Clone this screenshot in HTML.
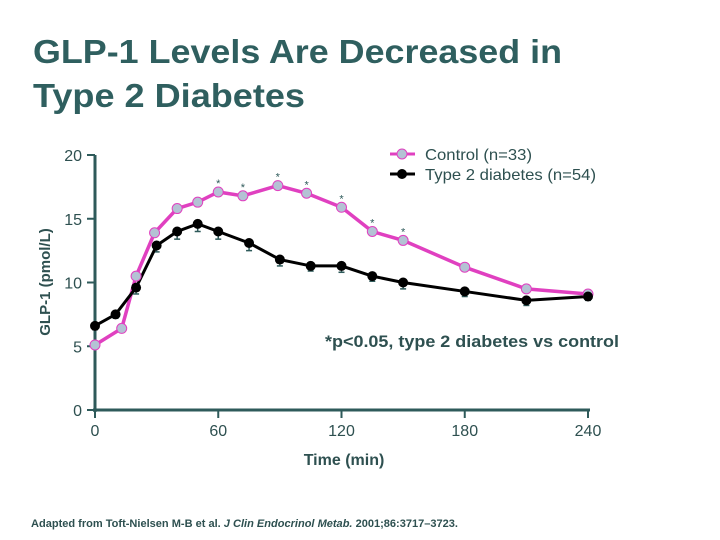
<!DOCTYPE html>
<html><head><meta charset="utf-8"><style>
body{margin:0;width:720px;height:540px;background:#fff;overflow:hidden;font-family:"Liberation Sans",sans-serif}
svg{position:absolute;left:0;top:0}
</style></head><body>
<svg width="720" height="540">
<text x="33" y="63" font-size="33" font-weight="bold" fill="#2f5f5f" textLength="529" lengthAdjust="spacingAndGlyphs">GLP-1 Levels Are Decreased in</text>
<text x="33" y="107" font-size="33" font-weight="bold" fill="#2f5f5f" textLength="272" lengthAdjust="spacingAndGlyphs">Type 2 Diabetes</text>
<g id="axes"></g>
<g id="marks"></g>
<text x="344" y="465" font-size="16" font-weight="bold" fill="#2e5050" text-anchor="middle">Time (min)</text>
<text transform="translate(50,282) rotate(-90)" font-size="15" font-weight="bold" fill="#2e5050" text-anchor="middle">GLP-1 (pmol/L)</text>
<text x="325" y="347" font-size="17" font-weight="bold" fill="#2e5050" textLength="294" lengthAdjust="spacingAndGlyphs">*p&lt;0.05, type 2 diabetes vs control</text>
<g>
<line x1="390" y1="154" x2="415" y2="154" stroke="#e040c0" stroke-width="3"/>
<circle cx="402" cy="154" r="5" fill="#b4c2d4" stroke="#e040c0" stroke-width="1"/>
<text x="425" y="160" font-size="16" fill="#2e5050" textLength="107" lengthAdjust="spacingAndGlyphs">Control (n=33)</text>
<line x1="390" y1="174" x2="415" y2="174" stroke="#000" stroke-width="3"/>
<circle cx="402" cy="174" r="5" fill="#000"/>
<text x="425" y="180" font-size="16" fill="#2e5050" textLength="171" lengthAdjust="spacingAndGlyphs">Type 2 diabetes (n=54)</text>
</g>
<text x="31" y="527" font-size="11" font-weight="bold" fill="#2e5050" textLength="427" lengthAdjust="spacingAndGlyphs">Adapted from Toft-Nielsen M-B et al. <tspan font-style="italic">J Clin Endocrinol Metab.</tspan> 2001;86:3717–3723.</text>
</svg>
<script>
const ctrlTimes=[0,13,20,29,40,50,60,72,89,103,120,135,150,180,210,240];
const ctrlVals=[5.1,6.4,10.5,13.9,15.8,16.3,17.1,16.8,17.6,17.0,15.9,14.0,13.3,11.2,9.5,9.1];
const t2dTimes=[0,10,20,30,40,50,60,75,90,105,120,135,150,180,210,240];
const t2dVals=[6.6,7.5,9.6,12.9,14.0,14.6,14.0,13.1,11.8,11.3,11.3,10.5,10.0,9.3,8.6,8.9];
const t2dErr=[0.3,0.3,0.5,0.5,0.6,0.6,0.6,0.6,0.5,0.4,0.5,0.4,0.5,0.4,0.4,0.3];
const sigTimes=[60,72,89,103,120,135,150];
const xTicks=[0,60,120,180,240];
const yTicks=[0,5,10,15,20];
const X=t=>95+t*(588-95)/240, Y=v=>410-v*(410-155)/20;
const NS="http://www.w3.org/2000/svg";
function mk(p,tag,a){const e=document.createElementNS(NS,tag);for(const k in a)e.setAttribute(k,a[k]);p.appendChild(e);return e;}
const ax=document.getElementById('axes'),mg=document.getElementById('marks');
const C="#2e5a5a";
let e=mk(ax,'line',{x1:95,y1:155,x2:95,y2:412,stroke:C,'stroke-width':3});

e=mk(ax,'line',{x1:93,y1:410,x2:590,y2:410,stroke:C,'stroke-width':3});

yTicks.forEach(v=>{mk(ax,'line',{x1:87,y1:Y(v),x2:95,y2:Y(v),stroke:C,'stroke-width':2});
 const t=mk(ax,'text',{x:82,y:Y(v)+6,'font-size':16,fill:'#2e5050','text-anchor':'end'});t.textContent=v;
 });
xTicks.forEach(v=>{mk(ax,'line',{x1:X(v),y1:410,x2:X(v),y2:418,stroke:C,'stroke-width':2});
 const t=mk(ax,'text',{x:X(v),y:436,'font-size':16,fill:'#2e5050','text-anchor':'middle'});t.textContent=v;
 });
t2dTimes.forEach((t,i)=>{const x=X(t),y1=Y(t2dVals[i]),y2=Y(t2dVals[i]-t2dErr[i]);
 mk(mg,'line',{x1:x,y1:y1,x2:x,y2:y2,stroke:C,'stroke-width':1.5});
 mk(mg,'line',{x1:x-3,y1:y2,x2:x+3,y2:y2,stroke:C,'stroke-width':1.5});});
e=mk(mg,'polyline',{points:ctrlTimes.map((t,i)=>X(t)+','+Y(ctrlVals[i])).join(' '),fill:'none',stroke:'#e040c0','stroke-width':3.5});

e=mk(mg,'polyline',{points:t2dTimes.map((t,i)=>X(t)+','+Y(t2dVals[i])).join(' '),fill:'none',stroke:'#000','stroke-width':3});

ctrlTimes.forEach((t,i)=>{const c=mk(mg,'circle',{cx:X(t),cy:Y(ctrlVals[i]),r:5,fill:'#b4c2d4',stroke:'#e040c0','stroke-width':1});
 });
t2dTimes.forEach((t,i)=>{const c=mk(mg,'circle',{cx:X(t),cy:Y(t2dVals[i]),r:5,fill:'#000'});
 });
sigTimes.forEach(t=>{const i=ctrlTimes.indexOf(t);const s=mk(mg,'text',{x:X(t),y:Y(ctrlVals[i])-5,'font-size':11,fill:C,'text-anchor':'middle'});s.textContent='*';
 });
</script>
</body></html>
